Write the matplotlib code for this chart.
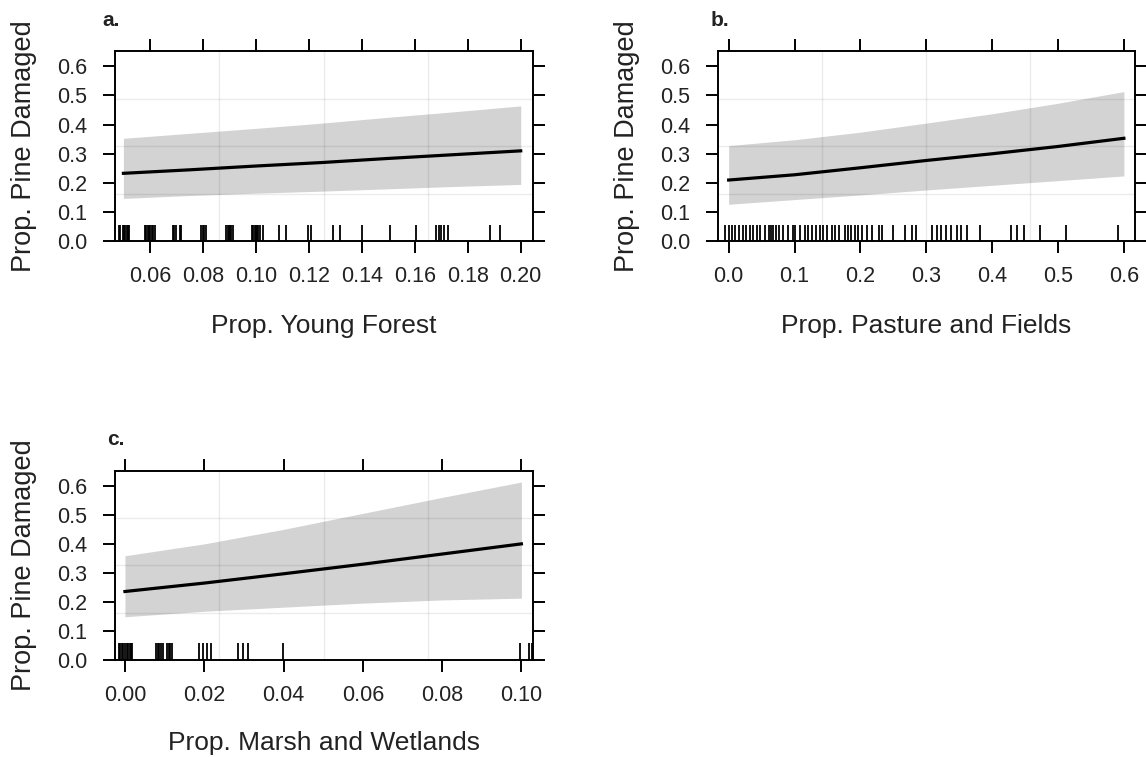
import matplotlib
matplotlib.use("Agg")
import matplotlib.pyplot as plt
import matplotlib.transforms as mtransforms

plt.rcParams['font.family'] = ['Liberation Sans', 'DejaVu Sans']

# a. young forest
young_x = [0.05, 0.075, 0.10, 0.125, 0.15, 0.175, 0.20]
young_fit = [0.233, 0.245, 0.258, 0.270, 0.284, 0.297, 0.310]
young_lower = [0.147, 0.157, 0.165, 0.172, 0.180, 0.188, 0.195]
young_upper = [0.353, 0.370, 0.387, 0.405, 0.425, 0.444, 0.464]
young_rug = [0.0482, 0.0488, 0.0497, 0.0502, 0.0507, 0.0512, 0.0517, 0.0522,
             0.0582, 0.0587, 0.0592, 0.0597, 0.0602, 0.0607, 0.0612, 0.0620,
             0.0686, 0.0690, 0.0700, 0.0712, 0.0717,
             0.0794, 0.0800, 0.0806, 0.0812,
             0.0888, 0.0893, 0.0898, 0.0903, 0.0908, 0.0913,
             0.0986, 0.0990, 0.0995, 0.1000, 0.1005, 0.1010, 0.1014, 0.1026,
             0.1089, 0.1115, 0.1196, 0.1209, 0.1291, 0.1316, 0.1400, 0.1505,
             0.1606, 0.1682, 0.1690, 0.1700, 0.1712, 0.1726, 0.1884, 0.1922]
young_ticks = [0.06, 0.08, 0.10, 0.12, 0.14, 0.16, 0.18, 0.20]

# b. pasture and fields
pasture_x = [0.0, 0.1, 0.2, 0.3, 0.4, 0.5, 0.6]
pasture_fit = [0.210, 0.228, 0.252, 0.277, 0.300, 0.325, 0.353]
pasture_lower = [0.127, 0.143, 0.159, 0.176, 0.192, 0.208, 0.224]
pasture_upper = [0.328, 0.348, 0.374, 0.405, 0.437, 0.473, 0.513]
pasture_rug = [-0.005, 0.000, 0.005, 0.010, 0.016, 0.022, 0.027, 0.032, 0.037,
               0.043, 0.047, 0.055, 0.061, 0.065, 0.068, 0.072, 0.076, 0.083,
               0.090, 0.097, 0.101, 0.109, 0.116, 0.120, 0.126, 0.132, 0.138,
               0.144, 0.150, 0.157, 0.162, 0.168, 0.176, 0.181, 0.186, 0.192,
               0.197, 0.203, 0.210, 0.217, 0.228, 0.233, 0.250, 0.268, 0.278,
               0.285, 0.309, 0.316, 0.323, 0.330, 0.338, 0.346, 0.353, 0.362,
               0.382, 0.428, 0.438, 0.449, 0.473, 0.512, 0.591]
pasture_ticks = [0.0, 0.1, 0.2, 0.3, 0.4, 0.5, 0.6]

# c. marsh and wetlands
marsh_x = [0.0, 0.02, 0.04, 0.06, 0.08, 0.10]
marsh_fit = [0.236, 0.265, 0.297, 0.330, 0.365, 0.400]
marsh_lower = [0.149, 0.168, 0.182, 0.196, 0.207, 0.213]
marsh_upper = [0.359, 0.400, 0.450, 0.505, 0.560, 0.613]
marsh_rug = [-0.0016, -0.0012, -0.0008, -0.0004, 0.0000, 0.0004, 0.0008,
             0.0012, 0.0016, 0.0019,
             0.0079, 0.0083, 0.0087, 0.0091, 0.0095,
             0.0106, 0.0110, 0.0114, 0.0118,
             0.0188, 0.0198, 0.0208, 0.0217,
             0.0284, 0.0297, 0.0311, 0.0398, 0.0997, 0.1019, 0.1027]
marsh_ticks = [0.00, 0.02, 0.04, 0.06, 0.08, 0.10]

y_ticks = [0.0, 0.1, 0.2, 0.3, 0.4, 0.5, 0.6]
txt = '#222222'


def effect_panel(ax, x, fit, lower, upper, rug, xlim, xticks, fmt, xlabel, letter,
                 xlab_y, letter_x, letter_y):
    ax.set_xlim(*xlim)
    ax.set_ylim(0, 0.652)

    ax.fill_between(x, lower, upper, color='#d3d3d3', lw=0, zorder=1)
    ax.plot(x, fit, color='black', lw=2.3, zorder=3)

    # light reference grid at the quarters of the panel
    for q in (0.25, 0.5, 0.75):
        ax.plot([q, q], [0, 1], transform=ax.transAxes, color='black',
                alpha=0.08, lw=1, zorder=2)
        ax.plot([0, 1], [q, q], transform=ax.transAxes, color='black',
                alpha=0.08, lw=1, zorder=2)

    # rug of observed values
    trans = mtransforms.blended_transform_factory(ax.transData, ax.transAxes)
    ax.vlines(rug, 0, 0.088, transform=trans, color='black', lw=1.3, zorder=4)

    ax.set_xticks(xticks)
    ax.set_xticklabels([fmt % v for v in xticks])
    ax.set_yticks(y_ticks)
    ax.set_yticklabels(['%.1f' % v for v in y_ticks])
    ax.tick_params(direction='out', length=8.8, width=1.4, top=True, right=True,
                   labelsize=15.5, labelcolor=txt, color='black')
    ax.tick_params(axis='y', pad=11)
    ax.tick_params(axis='x', pad=9)
    for s in ax.spines.values():
        s.set_linewidth(1.4)
        s.set_color('black')

    ax.set_ylabel('Prop. Pine Damaged', fontsize=19.5, color=txt)
    ax.yaxis.set_label_coords(-0.218, 0.5)
    ax.yaxis.label.set_va('center')
    ax.set_xlabel(xlabel, fontsize=19, color=txt)
    ax.xaxis.set_label_coords(0.5, xlab_y)
    ax.xaxis.label.set_va('center')

    ax.text(letter_x, letter_y, letter, transform=ax.transAxes, fontsize=15,
            fontweight='bold', color='#222222', ha='left', va='baseline')


fig = plt.figure(figsize=(11.46, 7.57), dpi=100)
ax_a = fig.add_axes([0.1003, 0.6812, 0.3647, 0.2514])
ax_b = fig.add_axes([0.6265, 0.6812, 0.3635, 0.2514])
ax_c = fig.add_axes([0.1003, 0.1281, 0.3647, 0.2501])

effect_panel(ax_a, young_x, young_fit, young_lower, young_upper, young_rug,
             (0.0468, 0.2046), young_ticks, '%.2f', 'Prop. Young Forest', 'a.',
             -0.445, -0.029, 1.131)
effect_panel(ax_b, pasture_x, pasture_fit, pasture_lower, pasture_upper, pasture_rug,
             (-0.0162, 0.6162), pasture_ticks, '%.1f', 'Prop. Pasture and Fields', 'b.',
             -0.445, -0.017, 1.131)
effect_panel(ax_c, marsh_x, marsh_fit, marsh_lower, marsh_upper, marsh_rug,
             (-0.00252, 0.1029), marsh_ticks, '%.2f', 'Prop. Marsh and Wetlands', 'c.',
             -0.438, -0.019, 1.136)

fig.savefig('out.png', dpi=100)
